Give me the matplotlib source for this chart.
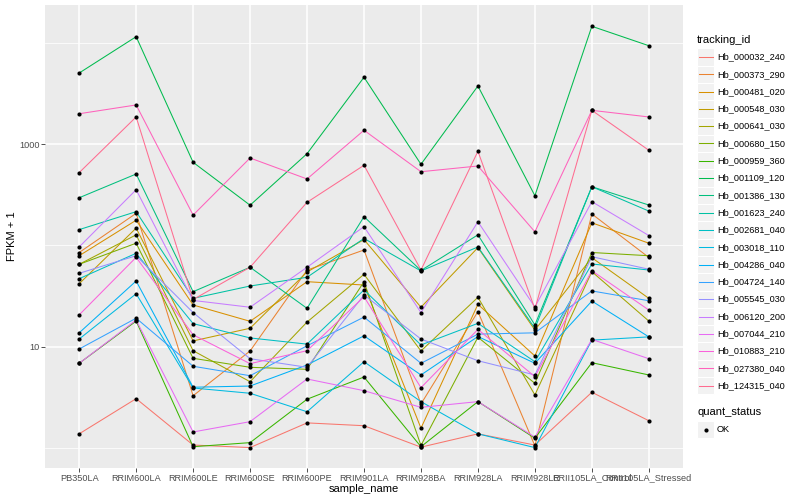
import matplotlib

matplotlib.use("Agg")
import matplotlib.pyplot as plt
import numpy as np
from matplotlib.lines import Line2D
from matplotlib.patches import Rectangle
from matplotlib.ticker import NullFormatter

plt.rcParams["font.family"] = ["Liberation Sans", "DejaVu Sans"]

# samples on the x axis
SAMPLES = [
    "PB350LA", "RRIM600LA", "RRIM600LE", "RRIM600SE", "RRIM600PE", "RRIM901LA",
    "RRIM928BA", "RRIM928LA", "RRIM928LE", "RRII105LA_Control", "RRII105LA_Stressed",
]

TRACKING_IDS = [
    "Hb_000032_240", "Hb_000373_290", "Hb_000481_020", "Hb_000548_030",
    "Hb_000641_030", "Hb_000680_150", "Hb_000959_360", "Hb_001109_120",
    "Hb_001386_130", "Hb_001623_240", "Hb_002681_040", "Hb_003018_110",
    "Hb_004286_040", "Hb_004724_140", "Hb_005545_030", "Hb_006120_200",
    "Hb_007044_210", "Hb_010883_210", "Hb_027380_040", "Hb_124315_040",
]

# ggplot hue palette, 20 levels
COLORS = [
    "#F8766D", "#EA8331", "#D89000", "#C09B00", "#A3A500", "#7CAE00", "#39B600",
    "#00BB4E", "#00BF7D", "#00C1A3", "#00BFC4", "#00BAE0", "#00B0F6", "#35A2FF",
    "#9590FF", "#C77CFF", "#E76BF3", "#FA62DB", "#FF62BC", "#FF6C90",
]

# FPKM + 1, one list per tracking_id
hb_000032_240 = [1.38, 3.07, 1.07, 1.01, 1.77, 1.66, 1.02, 1.38, 1.07, 3.55, 1.86]
hb_000373_290 = [85, 207, 3.28, 9.07, 57, 90, 2.72, 22.2, 1.05, 204, 76]
hb_000481_020 = [79, 177, 25.8, 17.8, 43.8, 40.6, 1.57, 26.2, 8.1, 167, 105]
hb_000548_030 = [41.8, 148, 11.4, 15.2, 54.6, 114, 24.5, 95, 14.6, 75.5, 30]
hb_000641_030 = [65, 127, 9.13, 4.51, 17.5, 51.8, 9.07, 30.7, 3.34, 55, 17.9]
hb_000680_150 = [65, 105, 7.68, 6.26, 5.98, 43.8, 1.06, 12.4, 4.35, 85, 79]
hb_000959_360 = [6.86, 17.9, 1.03, 1.13, 3.03, 5.02, 1.03, 2.87, 1.25, 6.95, 5.26]
hb_001109_120 = [5020, 11460, 660, 249, 803, 4560, 631, 3740, 309, 14520, 9340]
hb_001386_130 = [295, 506, 34.9, 60.8, 23.9, 192, 56.5, 127, 16.4, 379, 250]
hb_001623_240 = [143, 215, 30, 39.7, 48.4, 117, 55.9, 96.4, 15.2, 379, 218]
hb_002681_040 = [46.9, 83.5, 16.9, 12.2, 10.6, 36.3, 10.4, 17.0, 7.11, 65.5, 57.1]
hb_003018_110 = [11.9, 33.3, 3.91, 3.47, 2.28, 7.11, 2.87, 1.38, 1.01, 11.6, 12.5]
hb_004286_040 = [13.7, 44.5, 3.98, 4.09, 6.6, 12.8, 5.26, 12.6, 6.86, 28.2, 12.5]
hb_004724_140 = [9.49, 19.1, 6.41, 5.17, 10.2, 19.6, 6.86, 13.3, 13.7, 35.5, 28.4]
hb_005545_030 = [53, 79, 21.7, 7.61, 6.26, 32.4, 11.9, 7.27, 5.26, 77.3, 58.1]
hb_006120_200 = [96.4, 354, 28.6, 24.5, 60.8, 153, 21.7, 171, 24.6, 270, 125]
hb_007044_210 = [6.86, 18.3, 1.44, 1.82, 4.8, 3.68, 2.52, 2.87, 1.28, 11.8, 7.61]
hb_010883_210 = [20.6, 76.2, 13.1, 6.8, 9.13, 31.1, 3.94, 14.8, 5.06, 56.2, 23]
hb_027380_040 = [1990, 2430, 199, 728, 452, 1367, 533, 607, 136, 2150, 1850]
hb_124315_040 = [522, 1850, 29.2, 60.8, 266, 617, 57.1, 848, 23.6, 2150, 868]

SERIES = [
    hb_000032_240, hb_000373_290, hb_000481_020, hb_000548_030, hb_000641_030,
    hb_000680_150, hb_000959_360, hb_001109_120, hb_001386_130, hb_001623_240,
    hb_002681_040, hb_003018_110, hb_004286_040, hb_004724_140, hb_005545_030,
    hb_006120_200, hb_007044_210, hb_010883_210, hb_027380_040, hb_124315_040,
]

W, H = 800, 500


def fx(px):
    return px / W


def fy(py):
    return 1 - py / H


fig = plt.figure(figsize=(W / 100, H / 100), dpi=100)
ax = fig.add_axes([fx(45), fy(468), fx(683) - fx(45), fy(5) - fy(468)])
ax.set_facecolor("#EBEBEB")

x = np.arange(len(SAMPLES))
for vals, col in zip(SERIES, COLORS):
    ax.plot(x, vals, color=col, lw=0.75, zorder=2)
for vals in SERIES:
    ax.plot(x, vals, ls="none", marker="o", ms=3.0, mew=0, color="black", zorder=3)

ax.set_yscale("log")
ax.set_ylim(0.635, 23550)
ax.set_xlim(-0.6, len(SAMPLES) - 0.4)
ax.set_yticks([10, 1000])
ax.set_yticklabels(["10", "1000"])
ax.set_yticks([1, 100, 10000], minor=True)
ax.yaxis.set_minor_formatter(NullFormatter())
ax.set_xticks(x)
ax.set_xticklabels(SAMPLES)
ax.tick_params(axis="both", which="major", length=3, width=0.6, color="#333333",
               labelcolor="#4D4D4D", labelsize=6.6, pad=1)
ax.tick_params(axis="y", which="minor", length=0)
ax.grid(which="major", color="white", lw=1.1)
ax.grid(which="minor", axis="y", color="white", lw=0.55)
ax.set_axisbelow(True)
for s in ax.spines.values():
    s.set_visible(False)

ax.set_xlabel("sample_name", fontsize=8, color="black")
ax.set_ylabel("FPKM + 1", fontsize=8, color="black")
ax.xaxis.set_label_coords(0.5, -(489.5 - 468) / 463, transform=ax.transAxes)
ax.xaxis.label.set_va("center")
ax.yaxis.set_label_coords(-(45 - 12) / 638, 0.5, transform=ax.transAxes)
ax.yaxis.label.set_va("center")

# legend, ggplot style, laid out in figure pixels
fig.text(fx(697), fy(40), "tracking_id", fontsize=8, va="center", ha="left")
key = 17.3
y0 = 57
for i, (tid, col) in enumerate(zip(TRACKING_IDS, COLORS)):
    yc = y0 + key * i
    fig.add_artist(Rectangle((fx(697), fy(yc + key / 2)), fx(key), key / H,
                             transform=fig.transFigure, facecolor="#F2F2F2",
                             edgecolor="white", lw=0.8))
    fig.add_artist(Line2D([fx(699), fx(712.5)], [fy(yc), fy(yc)],
                          transform=fig.transFigure, color=col, lw=0.75))
    fig.text(fx(717), fy(yc), tid, fontsize=6.6, va="center", ha="left")

fig.text(fx(697), fy(412), "quant_status", fontsize=8, va="center", ha="left")
yc = 429.5
fig.add_artist(Rectangle((fx(697), fy(yc + key / 2)), fx(key), key / H,
                         transform=fig.transFigure, facecolor="#F2F2F2",
                         edgecolor="white", lw=0.8))
fig.add_artist(Line2D([fx(705.6)], [fy(yc)], transform=fig.transFigure,
                      ls="none", marker="o", ms=3.0, mew=0, color="black"))
fig.text(fx(717), fy(yc), "OK", fontsize=6.6, va="center", ha="left")

fig.savefig("out.png", dpi=100)
